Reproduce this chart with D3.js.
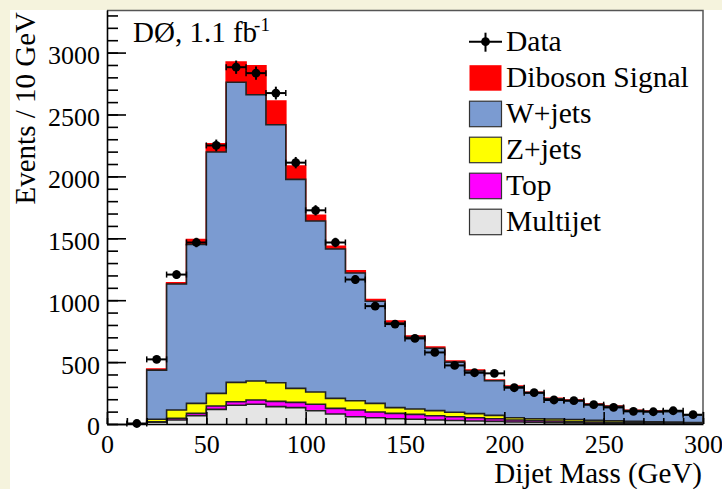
<!DOCTYPE html>
<html>
<head>
<meta charset="utf-8">
<script src="https://cdn.jsdelivr.net/npm/d3@7"></script>
<style>
  html, body { margin: 0; padding: 0; background: #f5f3dd; }
  svg { display: block; }
  svg text { font-family: "Liberation Serif", "DejaVu Serif", serif; fill: #000; }
</style>
</head>
<body>
<div id="chart"></div>
<script>
// bins are 10 GeV wide, lower edges 20 .. 290
const binLow = d3.range(20, 300, 10);

// stacked MC components, events per bin (bottom to top)
const multijet = [14, 32, 67, 118, 151, 159, 140, 132, 107, 81, 59, 51, 43, 38, 32, 28, 24, 21, 16, 14, 11, 9, 7, 6, 5, 4, 3, 3];
const topQuark = [4, 14, 19, 27, 29, 35, 43, 43, 52, 45, 54, 46, 43, 40, 35, 30, 27, 22, 16, 13, 13, 11, 9, 7, 6, 5, 4, 3];
const zjets = [20, 67, 81, 102, 156, 153, 150, 113, 99, 81, 75, 70, 46, 43, 41, 37, 33, 27, 19, 16, 16, 16, 14, 13, 11, 9, 8, 6];
const wjets = [397, 1018, 1283, 1950, 2425, 2312, 2084, 1688, 1382, 1207, 1032, 825, 683, 579, 504, 405, 344, 279, 249, 208, 163, 154, 128, 116, 86, 85, 85, 61];
const diboson = [9, 9, 40, 67, 162, 234, 191, 107, 46, 22, 17, 14, 16, 10, 9, 8, 7, 6, 6, 5, 4, 4, 3, 3, 2, 2, 2, 2];

// data points at bin centres 15 .. 295
const dataX = d3.range(15, 300, 10);
const dataY = [4, 522, 1207, 1466, 2250, 2882, 2834, 2673, 2111, 1726, 1466, 1167, 952, 807, 691, 578, 473, 414, 409, 293, 253, 194, 188, 156, 134, 102, 99, 107, 75];

const xTicks = [0, 50, 100, 150, 200, 250, 300];
const yTicks = [0, 500, 1000, 1500, 2000, 2500, 3000];

const series = [
  { key: 'Multijet', values: multijet, fill: '#e5e5e5', stroke: '#222' },
  { key: 'Top', values: topQuark, fill: '#ff00ff', stroke: '#222' },
  { key: 'Z+jets', values: zjets, fill: '#ffff00', stroke: '#222' },
  { key: 'W+jets', values: wjets, fill: '#7b9bd1', stroke: '#222' },
  { key: 'Diboson Signal', values: diboson, fill: '#ff0000', stroke: '#ff0000' },
];

const width = 722;
const height = 489;
const plot = { left: 107, right: 703, top: 10, bottom: 424 };
const serif = '"Liberation Serif", "DejaVu Serif", serif';

const x = d3.scaleLinear().domain([0, 300]).range([plot.left, plot.right]);
const y = d3.scaleLinear().domain([0, 3344]).range([plot.bottom, plot.top]);

const svg = d3
  .select('#chart')
  .append('svg')
  .attr('width', width)
  .attr('height', height);

// white pad
svg.append('rect')
  .attr('x', 10).attr('y', 10)
  .attr('width', width - 10).attr('height', height - 10)
  .attr('fill', '#fff');

// cumulative stack
const table = binLow.map((lo, i) => {
  const row = { lo };
  series.forEach((s) => (row[s.key] = s.values[i]));
  return row;
});
const stacked = d3.stack().keys(series.map((s) => s.key))(table);

const area = d3
  .area()
  .x((d) => x(d[0]))
  .y0(y(0))
  .y1((d) => y(d[1]));

// draw from the tallest cumulative histogram down, like THStack
const layers = stacked
  .map((layer, i) => {
    const pts = [];
    layer.forEach((d) => {
      pts.push([d.data.lo, d[1]]);
      pts.push([d.data.lo + 10, d[1]]);
    });
    return { pts, s: series[i] };
  })
  .reverse();

const g = svg.append('g');
layers.forEach(({ pts, s }) => {
  g.append('path')
    .attr('d', area(pts))
    .attr('fill', s.fill);
  const outline = [[pts[0][0], 0], ...pts, [pts[pts.length - 1][0], 0]];
  g.append('path')
    .attr('d', d3.line().x((d) => x(d[0])).y((d) => y(d[1]))(outline))
    .attr('fill', 'none')
    .attr('stroke', s.stroke)
    .attr('stroke-width', 1.6);
});

// data with errors
const pts = g.append('g').selectAll('g').data(dataX.map((v, i) => [v, dataY[i]])).join('g');
pts.append('line')
  .attr('x1', (d) => x(d[0] - 5)).attr('x2', (d) => x(d[0] + 5))
  .attr('y1', (d) => y(d[1])).attr('y2', (d) => y(d[1]))
  .attr('stroke', '#000').attr('stroke-width', 2);
pts.append('line')
  .attr('x1', (d) => x(d[0])).attr('x2', (d) => x(d[0]))
  .attr('y1', (d) => y(d[1] + Math.sqrt(d[1]))).attr('y2', (d) => y(Math.max(0, d[1] - Math.sqrt(d[1]))))
  .attr('stroke', '#000').attr('stroke-width', 2);
[-5, 5].forEach((off) => {
  pts.append('line')
    .attr('x1', (d) => x(d[0] + off)).attr('x2', (d) => x(d[0] + off))
    .attr('y1', (d) => y(d[1]) - 3).attr('y2', (d) => y(d[1]) + 3)
    .attr('stroke', '#000').attr('stroke-width', 1.5);
});
pts.append('circle')
  .attr('cx', (d) => x(d[0])).attr('cy', (d) => y(d[1]))
  .attr('r', 4.4).attr('fill', '#000');

// frame
svg.append('path')
  .attr('d', `M${plot.left},${plot.top + 0.5}H${plot.right}V${plot.bottom}`)
  .attr('fill', 'none').attr('stroke', '#555').attr('stroke-width', 1.5);

// axes
const yAxis = svg.append('g').attr('transform', `translate(${plot.left},0)`)
  .call(d3.axisLeft(y).tickValues(yTicks).tickFormat(d3.format('d')).tickSize(-19).tickSizeOuter(0).tickPadding(7));
svg.append('g').attr('transform', `translate(${plot.left},0)`)
  .call(d3.axisLeft(y).tickValues(d3.range(0, 3344, 100)).tickSize(-11).tickFormat(''))
  .call((a) => a.select('.domain').remove());
const xAxis = svg.append('g').attr('transform', `translate(0,${plot.bottom})`)
  .call(d3.axisBottom(x).tickValues(xTicks).tickFormat(d3.format('d')).tickSize(-12).tickSizeOuter(0).tickPadding(10));
svg.append('g').attr('transform', `translate(0,${plot.bottom})`)
  .call(d3.axisBottom(x).tickValues(d3.range(0, 301, 10)).tickSize(-6).tickFormat(''))
  .call((a) => a.select('.domain').remove());

svg.selectAll('.tick line, .domain').attr('stroke', '#000').attr('stroke-width', 1.6);
[yAxis, xAxis].forEach((a) => a.attr('font-family', serif).attr('font-size', 26));
yAxis.selectAll('text').style('font-family', serif).style('font-size', '26px').attr('dy', '0.42em');
xAxis.selectAll('text').style('font-family', serif).style('font-size', '26px').attr('dy', '0.74em');

// axis titles
svg.append('text')
  .attr('transform', 'translate(35,12) rotate(-90)')
  .attr('text-anchor', 'end')
  .attr('font-size', 29)
  .text('Events / 10 GeV');
svg.append('text')
  .attr('x', 702).attr('y', 483)
  .attr('text-anchor', 'end')
  .attr('font-size', 29)
  .text('Dijet Mass (GeV)');

// label
const lbl = svg.append('text').attr('x', 133).attr('y', 42).attr('font-size', 29);
lbl.append('tspan').text('DØ, 1.1 fb');
lbl.append('tspan').attr('dx', -3).attr('dy', -11).attr('font-size', 19).text('-');
lbl.append('tspan').attr('dx', 0).attr('font-size', 19).text('1');

// legend
const legendItems = [{ key: 'Data' }, ...series.slice().reverse()];
const leg = svg.append('g').selectAll('g').data(legendItems).join('g')
  .attr('transform', (d, i) => `translate(469,${41.7 + i * 36})`);
leg.filter((d) => d.key === 'Data').call((sel) => {
  sel.append('line').attr('x1', 0).attr('x2', 33).attr('y1', 0).attr('y2', 0).attr('stroke', '#000').attr('stroke-width', 2);
  sel.append('line').attr('x1', 16.5).attr('x2', 16.5).attr('y1', -9).attr('y2', 10).attr('stroke', '#000').attr('stroke-width', 2);
  sel.append('circle').attr('cx', 16.5).attr('cy', 0).attr('r', 4.4).attr('fill', '#000');
});
leg.filter((d) => d.key !== 'Data').append('rect')
  .attr('x', 0.5).attr('y', -12.5).attr('width', 32).attr('height', 25.5)
  .attr('fill', (d) => d.fill)
  .attr('stroke', (d) => (d.key === 'Diboson Signal' ? 'none' : '#333'))
  .attr('stroke-width', 1.2);
leg.append('text')
  .attr('x', 37).attr('y', 9.5)
  .attr('font-size', 29.5)
  .text((d) => d.key);
</script>
</body>
</html>
